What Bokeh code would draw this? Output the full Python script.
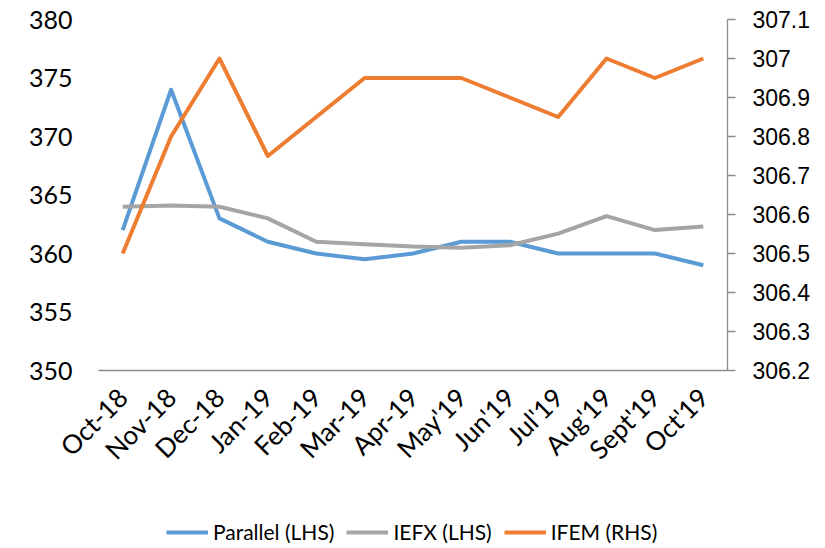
import math
from bokeh.plotting import figure
from bokeh.layouts import column
from bokeh.models import (Range1d, LinearAxis, FixedTicker, NumeralTickFormatter,
                          Legend, LegendItem, FactorRange)
from bokeh.embed import file_html
from bokeh.resources import INLINE

months = ["Oct-18", "Nov-18", "Dec-18", "Jan-19", "Feb-19", "Mar-19", "Apr-19",
          "May'19", "Jun'19", "Jul'19", "Aug'19", "Sept'19", "Oct'19"]
parallel = [362, 374, 363, 361, 360, 359.5, 360, 361, 361, 360, 360, 360, 359]
iefx = [364, 364.1, 364, 363, 361, 360.8, 360.6, 360.5, 360.7, 361.7, 363.2, 362, 362.3]
ifem = [306.5, 306.8, 307.0, 306.75, 306.85, 306.95, 306.95, 306.95, 306.9, 306.85, 307.0, 306.95, 307.0]
lhs_ticks = [350, 355, 360, 365, 370, 375, 380]
rhs_ticks = [306.2, 306.3, 306.4, 306.5, 306.6, 306.7, 306.8, 306.9, 307.0, 307.1]
series_names = ["Parallel (LHS)", "IEFX (LHS)", "IFEM (RHS)"]

BLUE = "#5B9BD5"
GRAY = "#A5A5A5"
ORANGE = "#ED7D31"
AXIS = "#8C8C8C"
colors = [BLUE, GRAY, ORANGE]

p = figure(x_range=FactorRange(*months, range_padding=0), y_range=Range1d(350, 380),
           width=817, height=498, min_border_left=98, min_border_right=90,
           min_border_top=19, min_border_bottom=128,
           output_backend="svg", toolbar_location=None)
p.outline_line_color = None
p.grid.visible = False
p.extra_y_ranges = {"rhs": Range1d(306.2, 307.1)}

p.line(months, parallel, line_color=BLUE, line_width=4, line_join="round")
p.line(months, iefx, line_color=GRAY, line_width=4, line_join="round")
p.line(months, ifem, line_color=ORANGE, line_width=4, line_join="round", y_range_name="rhs")

# left axis
ya = p.yaxis[0]
ya.ticker = FixedTicker(ticks=lhs_ticks)
ya.axis_line_color = None
ya.major_tick_line_color = None
ya.minor_tick_line_color = None
ya.major_tick_out = 0
ya.major_label_standoff = 26
ya.major_label_text_font = "Lato"
ya.major_label_text_font_size = "25px"
ya.major_label_text_color = "#000000"

# right axis
ra = LinearAxis(y_range_name="rhs", ticker=FixedTicker(ticks=rhs_ticks),
                formatter=NumeralTickFormatter(format="0.[0]"))
ra.axis_line_color = AXIS
ra.axis_line_width = 1.3
ra.major_tick_line_color = AXIS
ra.major_tick_line_width = 1.3
ra.minor_tick_line_color = None
ra.major_tick_out = 8
ra.major_tick_in = 0
ra.major_label_standoff = 17
ra.major_label_text_font = "Liberation Sans"
ra.major_label_text_font_size = "23px"
ra.major_label_text_color = "#000000"
p.add_layout(ra, "right")

# bottom axis
xa = p.xaxis[0]
xa.axis_line_color = AXIS
xa.axis_line_width = 1.3
xa.major_tick_line_color = None
xa.minor_tick_line_color = None
xa.major_tick_out = 0
xa.major_label_orientation = math.pi / 4
xa.major_label_standoff = 22
xa.major_label_text_font = "Lato"
xa.major_label_text_font_size = "26px"
xa.major_label_text_color = "#000000"

# legend strip (frame is aligned with the main chart's frame by the column)
lg = figure(width=817, height=46, min_border_left=98, min_border_right=90,
            min_border_top=0, min_border_bottom=0, output_backend="svg",
            toolbar_location=None, x_range=Range1d(0, 1), y_range=Range1d(0, 1))
lg.outline_line_color = None
lg.axis.visible = False
lg.grid.visible = False
items = []
for name, c in zip(series_names, colors):
    r = lg.line([5, 6], [5, 6], line_color=c, line_width=4)
    items.append(LegendItem(label=name, renderers=[r]))
legend = Legend(items=items, orientation="horizontal", location=(68, 0),
                glyph_width=42, label_standoff=5, spacing=12, padding=0, margin=0,
                border_line_color=None, background_fill_alpha=0,
                label_text_font="Lato", label_text_font_size="21px",
                label_text_color="#000000")
lg.add_layout(legend, "center")

open("out.html", "w").write(file_html(column(p, lg, spacing=0), INLINE))
